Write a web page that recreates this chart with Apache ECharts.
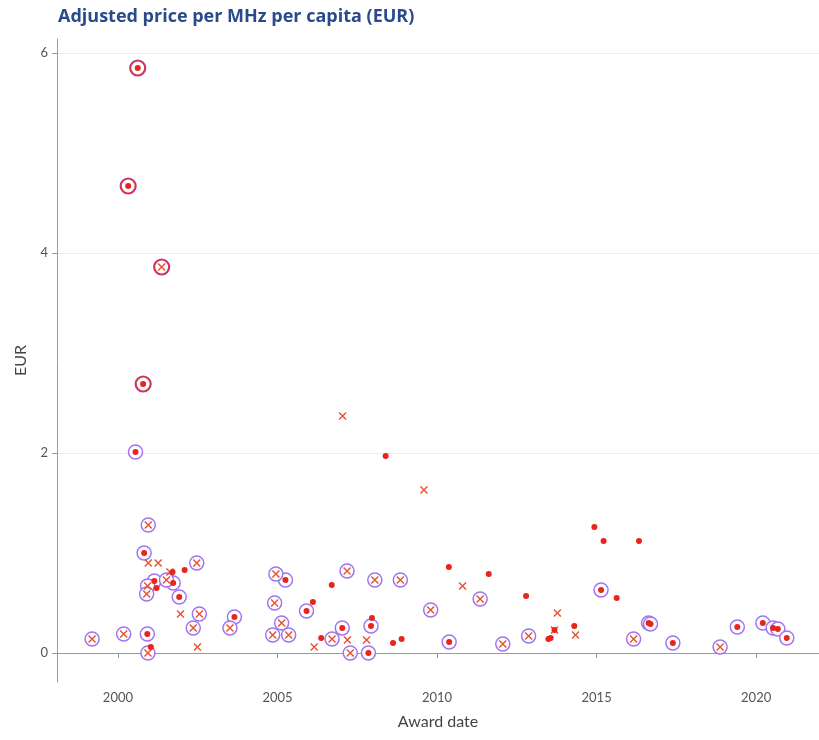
<!DOCTYPE html>
<html>
<head>
<meta charset="utf-8">
<script src="https://cdn.jsdelivr.net/npm/echarts@6/dist/echarts.min.js"></script>
<style>
    html, body { margin: 0; padding: 0; background: #ffffff; }
    #chart { width: 819px; height: 740px; }
</style>
</head>
<body>
<div id="chart"></div>
<script>
// [award year, EUR]
const dotsPlain = [
    [2001.71, 0.81], [2002.09, 0.83], [2001.21, 0.65], [2001.03, 0.06],
    [2008.39, 1.97], [2006.70, 0.68], [2006.11, 0.51], [2006.37, 0.15],
    [2007.96, 0.35], [2008.62, 0.10], [2008.89, 0.14], [2010.37, 0.86],
    [2011.62, 0.79], [2012.79, 0.57], [2013.68, 0.23], [2013.49, 0.14],
    [2013.56, 0.15], [2014.30, 0.27], [2014.93, 1.26], [2015.22, 1.12],
    [2016.33, 1.12], [2015.63, 0.55]
]
const dotsRinged = [
    [2000.55, 2.01], [2000.82, 1.00], [2001.14, 0.72], [2001.73, 0.70],
    [2001.92, 0.56], [2003.65, 0.36], [2000.92, 0.19], [2005.25, 0.73],
    [2005.91, 0.42], [2007.03, 0.25], [2007.93, 0.27], [2007.85, 0.00],
    [2010.38, 0.11], [2015.14, 0.63], [2016.63, 0.30], [2016.69, 0.29],
    [2017.39, 0.10], [2019.41, 0.26], [2020.21, 0.30], [2020.53, 0.25],
    [2020.68, 0.24], [2020.96, 0.15]
]
const dotsBigRing = [[2000.62, 5.85], [2000.32, 4.67], [2000.79, 2.69]]

const crossesPlain = [
    [2000.95, 0.90], [2001.26, 0.90], [2001.63, 0.81], [2001.96, 0.39],
    [2002.49, 0.06], [2007.04, 2.37], [2009.59, 1.63], [2010.80, 0.67],
    [2006.15, 0.06], [2007.19, 0.13], [2007.79, 0.13], [2013.77, 0.40],
    [2013.68, 0.23], [2014.34, 0.18]
]
const crossesRinged = [
    [2000.95, 1.28], [2002.47, 0.90], [2000.93, 0.67], [2001.52, 0.73],
    [2000.90, 0.59], [2002.55, 0.39], [2002.36, 0.25], [2003.51, 0.25],
    [1999.19, 0.14], [2000.18, 0.19], [2000.94, 0.00], [2004.95, 0.79],
    [2007.18, 0.82], [2008.05, 0.73], [2008.85, 0.73], [2011.35, 0.54],
    [2004.91, 0.50], [2009.80, 0.43], [2005.13, 0.30], [2004.85, 0.18],
    [2005.35, 0.18], [2006.71, 0.14], [2007.28, 0.00], [2012.06, 0.09],
    [2012.87, 0.17], [2016.16, 0.14], [2018.87, 0.06]
]
const crossesBigRing = [[2001.37, 3.86]]

const xTicks = [2000, 2005, 2010, 2015, 2020]
const yTicks = [0, 2, 4, 6]

const chart = echarts.init(document.getElementById("chart"))
const labelFont = "Lato, 'Open Sans', sans-serif"
const crossPath = "path://M0,0L10,10M10,0L0,10"

const option = {
    backgroundColor: "#ffffff",
    animation: false,
    title: {
        text: "Adjusted price per MHz per capita (EUR)",
        left: 53,
        top: 3,
        textStyle: {
            fontFamily: "'Open Sans', sans-serif",
            fontSize: 18,
            fontWeight: "bold",
            color: "#2b4a8c"
        }
    },
    grid: {
        left: 57,
        right: 0,
        top: 39,
        bottom: 58,
        containLabel: false
    },
    xAxis: {
        type: "value",
        min: 1998.09,
        max: 2021.97,
        name: "Award date",
        nameLocation: "middle",
        nameGap: 32,
        nameTextStyle: { fontFamily: labelFont, fontSize: 16, color: "#444444" },
        axisLine: { show: true, lineStyle: { color: "#9a9a9a", width: 1 } },
        axisTick: { show: true, length: 5, lineStyle: { color: "#9a9a9a" }, customValues: xTicks },
        axisLabel: {
            fontFamily: labelFont, fontSize: 13, color: "#555555", margin: 9,
            customValues: xTicks,
            formatter: v => String(v)
        },
        splitLine: { show: false }
    },
    yAxis: {
        type: "value",
        min: -0.29,
        max: 6.14,
        name: "EUR",
        nameLocation: "middle",
        nameGap: 28,
        nameTextStyle: { fontFamily: labelFont, fontSize: 16, color: "#444444" },
        axisLine: { show: true, lineStyle: { color: "#9a9a9a", width: 1 } },
        axisTick: { show: true, length: 5, lineStyle: { color: "#9a9a9a" }, customValues: yTicks },
        axisLabel: { fontFamily: labelFont, fontSize: 13, color: "#555555", margin: 9, customValues: yTicks },
        splitLine: { show: true, lineStyle: { color: "#ececec", width: 1 } }
    },
    series: [
        {
            name: "ring",
            type: "scatter",
            symbol: "circle",
            symbolSize: 14,
            itemStyle: { color: "rgba(255,255,255,0.9)", borderColor: "#a274f2", borderWidth: 1.5, opacity: 1 },
            data: dotsRinged.concat(crossesRinged)
        },
        {
            name: "bigRing",
            type: "scatter",
            symbol: "circle",
            symbolSize: 15,
            itemStyle: { color: "#ffffff", borderColor: "#cf3462", borderWidth: 2.2, opacity: 1 },
            data: dotsBigRing.concat(crossesBigRing)
        },
        {
            name: "cross",
            type: "scatter",
            symbol: crossPath,
            symbolSize: 7,
            itemStyle: { color: "rgba(0,0,0,0)", borderColor: "#e8502e", borderWidth: 1.4, opacity: 1 },
            data: crossesPlain.concat(crossesRinged, crossesBigRing)
        },
        {
            name: "dot",
            type: "scatter",
            symbol: "circle",
            symbolSize: 6,
            itemStyle: { color: "#e8241c", opacity: 1 },
            data: dotsPlain.concat(dotsRinged, dotsBigRing)
        }
    ]
}

chart.setOption(option, true)
</script>
</body>
</html>
